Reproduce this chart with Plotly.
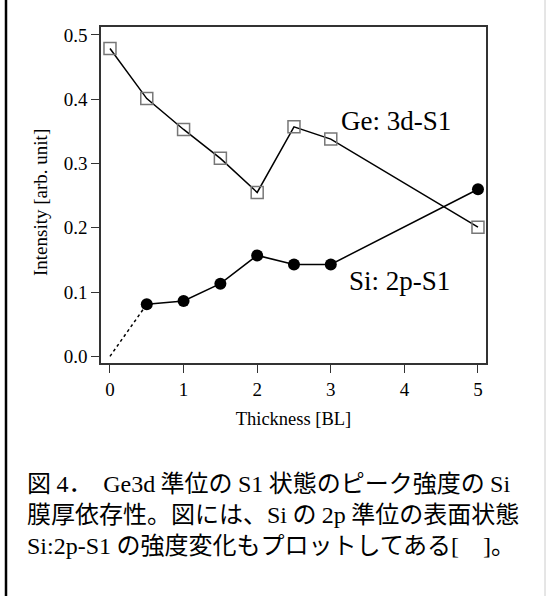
import re
import plotly.graph_objects as go

# ---- data ----
ge_x = [0, 0.5, 1, 1.5, 2, 2.5, 3, 5]
ge_y = [0.479, 0.401, 0.353, 0.308, 0.255, 0.357, 0.338, 0.201]
si_x = [0.5, 1, 1.5, 2, 2.5, 3, 5]
si_y = [0.081, 0.086, 0.113, 0.157, 0.143, 0.143, 0.260]
si_origin_x = [0]
si_origin_y = [0.0]
ge_label = "Ge: 3d-S1"
si_label = "Si: 2p-S1"
x_title = "Thickness [BL]"
y_title = "Intensity [arb. unit]"
caption_lines = [
    "図 4．  Ge3d 準位の S1 状態のピーク強度の Si",
    "膜厚依存性。図には、Si の 2p 準位の表面状態",
    "Si:2p-S1 の強度変化もプロットしてある[　]。",
]

SERIF = "Liberation Serif, Times New Roman, serif"
CAP_FONT = "Noto Sans CJK JP, sans-serif"


def latin_serif(s):
    # render Latin/ASCII runs in the serif face, Japanese in the Gothic face
    return re.sub(r"([A-Za-z0-9:\-\[\]]+)",
                  r'<span style="font-family:Liberation Serif">\1</span>', s)


fig = go.Figure()

# dotted extrapolation of Si to origin
fig.add_trace(go.Scatter(
    x=si_origin_x + si_x[:1], y=si_origin_y + si_y[:1], mode="lines",
    line=dict(color="black", width=1.5, dash="dot"), showlegend=False, hoverinfo="skip"))

fig.add_trace(go.Scatter(
    x=ge_x, y=ge_y, mode="lines+markers",
    line=dict(color="black", width=1.5),
    marker=dict(symbol="square-open", size=12, color="#777777", line=dict(width=1.5, color="#777777")),
    showlegend=False))

fig.add_trace(go.Scatter(
    x=si_x, y=si_y, mode="lines+markers",
    line=dict(color="black", width=1.5),
    marker=dict(symbol="circle", size=12, color="black"),
    showlegend=False))

W, H = 546, 596
L, R, T, B = 101, 60, 27, 233
pw, ph = W - L - R, H - T - B

def px(xp):
    return (xp - L) / pw

def py(yp):
    return (H - B - yp) / ph

annotations = [
    dict(x=3.88, y=0.366, xref="x", yref="y", text=ge_label, showarrow=False,
         font=dict(family=SERIF, size=27, color="black")),
    dict(x=3.93, y=0.117, xref="x", yref="y", text=si_label, showarrow=False,
         font=dict(family=SERIF, size=27, color="black")),
    dict(x=px(40), y=py(203), xref="paper", yref="paper", text=y_title, showarrow=False,
         textangle=-90, xanchor="center", yanchor="middle",
         font=dict(family=SERIF, size=19, color="black")),
    dict(x=px(25), y=py(512), xref="paper", yref="paper", xanchor="left", yanchor="middle",
         align="left", showarrow=False,
         text="<br>".join(latin_serif(s) for s in caption_lines),
         font=dict(family=CAP_FONT, size=24, color="black")),
]

shapes = [
    dict(type="line", xref="paper", yref="paper", x0=px(6), x1=px(6), y0=py(0), y1=py(H),
         line=dict(color="black", width=2.5)),
    dict(type="line", xref="paper", yref="paper", x0=px(545), x1=px(545), y0=py(0), y1=py(H),
         line=dict(color="#cccccc", width=1)),
]

fig.update_layout(
    width=W, height=H, margin=dict(l=L, r=R, t=T, b=B),
    paper_bgcolor="white", plot_bgcolor="white",
    annotations=annotations, shapes=shapes,
    xaxis=dict(range=[-0.122, 5.109], tickmode="array", tickvals=[0, 1, 2, 3, 4, 5],
               ticks="outside", ticklen=8, tickcolor="#333", tickwidth=1.2,
               showline=True, linecolor="#333", linewidth=1.5, mirror=True,
               showgrid=False, zeroline=False,
               tickfont=dict(family=SERIF, size=19, color="black"),
               title=dict(text=x_title, font=dict(family=SERIF, size=18.5, color="black"), standoff=14)),
    yaxis=dict(range=[-0.0104, 0.5124], tickmode="array", tickvals=[0, 0.1, 0.2, 0.3, 0.4, 0.5],
               tickformat=".1f",
               ticks="outside", ticklen=8, tickcolor="#333", tickwidth=1.2,
               showline=True, linecolor="#333", linewidth=1.5, mirror=True,
               showgrid=False, zeroline=False,
               tickfont=dict(family=SERIF, size=19, color="black")),
)

fig.write_html("out.html")
